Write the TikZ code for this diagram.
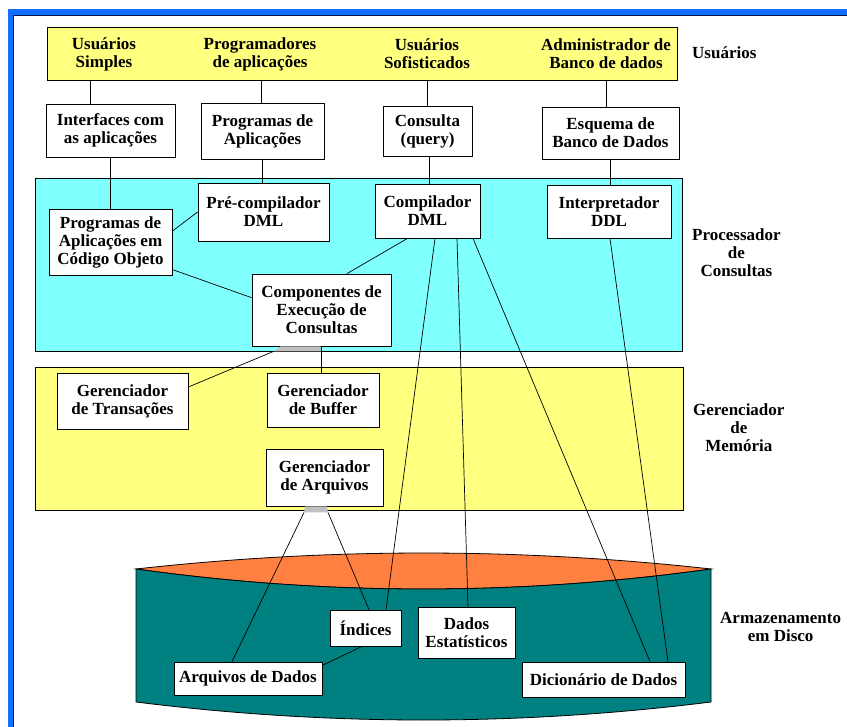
\documentclass[tikz,border=0pt]{standalone}
\usepackage{fontspec}
\setmainfont{Liberation Serif}
\usetikzlibrary{shadows}
\definecolor{amarelo}{RGB}{255,255,128}
\definecolor{ciano}{RGB}{128,255,255}
\definecolor{laranja}{RGB}{255,128,64}
\definecolor{petroleo}{RGB}{0,128,128}
\definecolor{cinza}{RGB}{192,192,192}
\definecolor{janela}{RGB}{20,110,255}
\definecolor{escuro}{RGB}{10,20,70}
\tikzset{
  basic/.style  = {draw, line width=0.8pt, rectangle, inner sep=0pt, align=center,
    font=\bfseries\fontsize{17}{18}\selectfont},
  caixa/.style  = {basic, fill=white,
    drop shadow={shadow xshift=1.2pt, shadow yshift=-1.2pt, fill=black!55, opacity=1}},
  regiao/.style = {basic,
    drop shadow={shadow xshift=1.2pt, shadow yshift=-1.2pt, fill=black!55, opacity=1}},
  texto/.style  = {align=center, inner sep=0pt, font=\bfseries\fontsize{17}{18}\selectfont},
  rotulo/.style = {texto, anchor=west},
  liga/.style   = {line width=0.7pt}
}

\begin{document}
\begin{tikzpicture}[x=1pt, y=-1pt]
\useasboundingbox (0,0) rectangle (847,727);

% moldura da janela
\fill[janela] (8,9) rectangle (847,15);
\fill[janela] (8,9) rectangle (13,727);
\draw[escuro, line width=1pt] (13.5,727) -- (13.5,15.5) -- (847,15.5);

% faixas de fundo
\node[regiao, fill=amarelo, minimum width=630pt, minimum height=53pt] (faixa) at (362,53.5) {};
\node[regiao, fill=ciano, minimum width=647pt, minimum height=173pt] (processador) at (358.5,264.5) {};
\node[regiao, fill=amarelo, minimum width=648pt, minimum height=143pt] (memoria) at (359,438.5) {};

% disco
\filldraw[fill=laranja, line width=0.8pt] (136,569) .. controls (328,547.7) and (519,547.7) .. (711,569)
  .. controls (519,595.7) and (328,595.7) .. (136,569) -- cycle;
\filldraw[fill=petroleo, line width=0.8pt] (136,569) .. controls (328,595.7) and (519,595.7) .. (711,569)
  -- (711,702) .. controls (519,726) and (328,726) .. (136,702) -- cycle;

% usuarios, dentro da faixa
\node[texto] (simples) at (104,54) {Usuários\\Simples};
\node[texto] (programadores) at (260,54) {Programadores\\de aplicações};
\node[texto] (sofisticados) at (427,54) {Usuários\\Sofisticados};
\node[texto] (administrador) at (606,54) {Administrador de\\Banco de dados};

% rotulos a direita
\node[rotulo] (rotUsr) at (692,53) {Usuários};
\node[rotulo] (rotProc) at (692,253) {Processador\\de\\Consultas};
\node[rotulo] (rotMem) at (693,428) {Gerenciador\\de\\Memória};
\node[rotulo] (rotDisco) at (720,627) {Armazenamento\\em Disco};

% caixas
\begin{scope}[every node/.style={caixa}]
  \node[minimum width=129pt, minimum height=53pt] (interfaces) at (110.5,130.5) {Interfaces com\\as aplicações};
  \node[minimum width=123pt, minimum height=56pt] (progApl) at (262.5,131) {Programas de\\Aplicações};
  \node[minimum width=89pt, minimum height=50pt] (consulta) at (427.5,131) {Consulta\\(query)};
  \node[minimum width=137pt, minimum height=52pt] (esquema) at (610.5,133) {Esquema de\\Banco de Dados};
  \node[minimum width=131pt, minimum height=58pt] (precomp) at (263.5,212) {Pré-compilador\\DML};
  \node[minimum width=105pt, minimum height=54pt] (compilador) at (427.5,211) {Compilador\\DML};
  \node[minimum width=124pt, minimum height=53pt] (interp) at (609,211.5) {Interpretador\\DDL};
  \node[minimum width=123pt, minimum height=66pt] (codigo) at (110.5,242) {Programas de\\Aplicações em\\Código Objeto};
  \node[minimum width=139pt, minimum height=72pt] (componentes) at (321.5,310) {Componentes de\\Execução de\\Consultas};
  \node[minimum width=131pt, minimum height=56pt] (transacoes) at (122.5,401) {Gerenciador\\de Transações};
  \node[minimum width=112pt, minimum height=54pt] (buffer) at (323,400) {Gerenciador\\de Buffer};
  \node[minimum width=117pt, minimum height=57pt] (arquivosGer) at (324.5,477.5) {Gerenciador\\de Arquivos};
  \node[minimum width=71pt, minimum height=36pt] (indices) at (365.5,628) {Índices};
  \node[minimum width=97pt, minimum height=51pt] (dadosEst) at (466.5,632.5) {Dados\\Estatísticos};
  \node[minimum width=148pt, minimum height=33pt] (arqDados) at (248,678.5) {Arquivos de Dados};
  \node[minimum width=163pt, minimum height=35pt] (dicionario) at (603.5,679.5) {Dicionário de Dados};
\end{scope}

% da faixa de usuarios para as caixas
\draw[liga] ([xshift=-20.5pt]interfaces.north) -- ([xshift=-20.5pt]interfaces.north |- faixa.south);
\draw[liga] ([xshift=-1.5pt]progApl.north) -- ([xshift=-1.5pt]progApl.north |- faixa.south);
\draw[liga] (consulta.north) -- (consulta.north |- faixa.south);
\draw[liga] ([xshift=-4.5pt]esquema.north) -- ([xshift=-4.5pt]esquema.north |- faixa.south);

% para o processador de consultas
\draw[liga] (interfaces.south) -- (interfaces.south |- codigo.north);
\draw[liga] (progApl.south) -- (progApl.south |- precomp.north);
\draw[liga] ([xshift=2pt]consulta.south) -- ([xshift=2pt]consulta.south |- compilador.north);
\draw[liga] (esquema.south) -- (esquema.south |- interp.north);
\draw[liga] (precomp.west) -- (codigo.10);
\draw[liga] (codigo.-24) -- (componentes.170);
\draw[liga] ([xshift=-20pt]compilador.south) -- (componentes.55);

% componentes -> gerenciador de memoria
\coordinate (compA) at ([xshift=-48pt,yshift=-5pt]componentes.south);
\fill[cinza] ([xshift=-41pt]componentes.south) -- ([xshift=-1pt]componentes.south)
  -- ([xshift=-1pt,yshift=-5pt]componentes.south) -- (compA) -- cycle;
\draw[liga] (compA) -- (transacoes.12);
\draw[liga] (componentes.south) -- (componentes.south |- buffer.north);

% gerenciador de arquivos -> disco
\coordinate (arqA) at ([xshift=-20.5pt,yshift=-6pt]arquivosGer.south);
\coordinate (arqB) at ([xshift=3.5pt,yshift=-6pt]arquivosGer.south);
\fill[cinza] ([xshift=-19.5pt]arquivosGer.south) -- ([xshift=2.5pt]arquivosGer.south) -- (arqB) -- (arqA) -- cycle;
\draw[liga] (arqA) -- ([xshift=-16pt]arqDados.north);
\draw[liga] (arqB) -- ([xshift=3.5pt]indices.north);
\draw[liga] ([xshift=-3.5pt]indices.south) -- (arqDados.10);

% compilador e interpretador -> disco
\draw[liga] ([xshift=7.5pt]compilador.south) -- ([xshift=20.5pt]indices.north);
\draw[liga] ([xshift=29.5pt]compilador.south) -- ([xshift=1.5pt]dadosEst.north);
\draw[liga] ([xshift=45.5pt]compilador.south) -- ([xshift=46.5pt]dicionario.north);
\draw[liga] ([xshift=1pt]interp.south) -- ([xshift=64.5pt]dicionario.north);

\end{tikzpicture}
\end{document}
